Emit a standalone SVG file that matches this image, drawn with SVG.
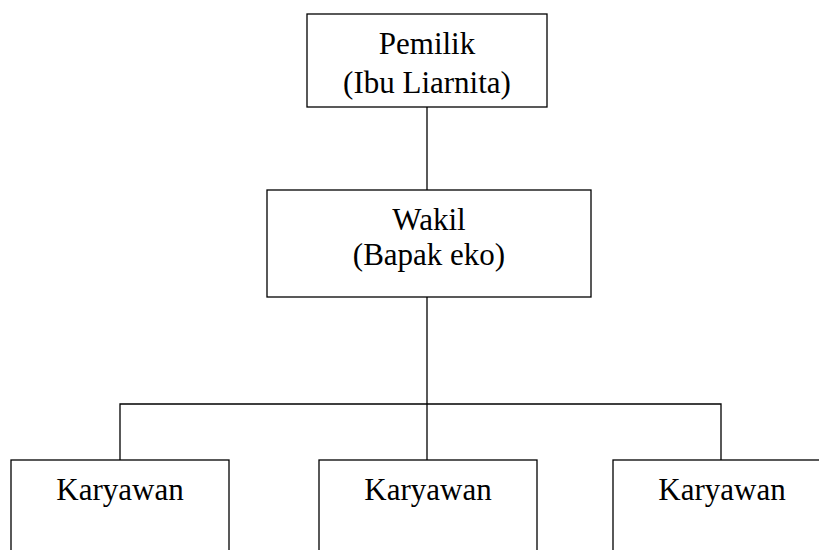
<svg xmlns="http://www.w3.org/2000/svg" width="819" height="550" viewBox="0 0 819 550">
<style>
.box{fill:#fff;stroke:#000;stroke-width:1.3}
.con{fill:none;stroke:#000;stroke-width:1.3}
.t{font-size:31px;fill:#000;text-anchor:middle}
</style>
<rect width="819" height="550" fill="#fff"/>
<g id="connectors">
<line class="con" x1="427" y1="107" x2="427" y2="190"/>
<line class="con" x1="427" y1="297" x2="427" y2="460"/>
<polyline class="con" points="120,460 120,404 721,404 721,460"/>
</g>
<g font-family="Liberation Serif, Times New Roman, serif">
<g id="pemilik">
<rect class="box" x="307" y="14" width="240" height="93"/>
<text class="t" x="427" y="54">Pemilik</text>
<text class="t" x="427" y="93">(Ibu Liarnita)</text>
</g>
<g id="wakil">
<rect class="box" x="267" y="190" width="324" height="107"/>
<text class="t" x="429" y="230">Wakil</text>
<text class="t" x="429" y="265">(Bapak eko)</text>
</g>
<g id="karyawan1">
<rect class="box" x="11" y="460" width="218" height="120"/>
<text class="t" x="120" y="500">Karyawan</text>
</g>
<g id="karyawan2">
<rect class="box" x="319" y="460" width="218" height="120"/>
<text class="t" x="428" y="500">Karyawan</text>
</g>
<g id="karyawan3">
<rect class="box" x="613" y="460" width="218" height="120"/>
<text class="t" x="722" y="500">Karyawan</text>
</g>
</g>
</svg>
